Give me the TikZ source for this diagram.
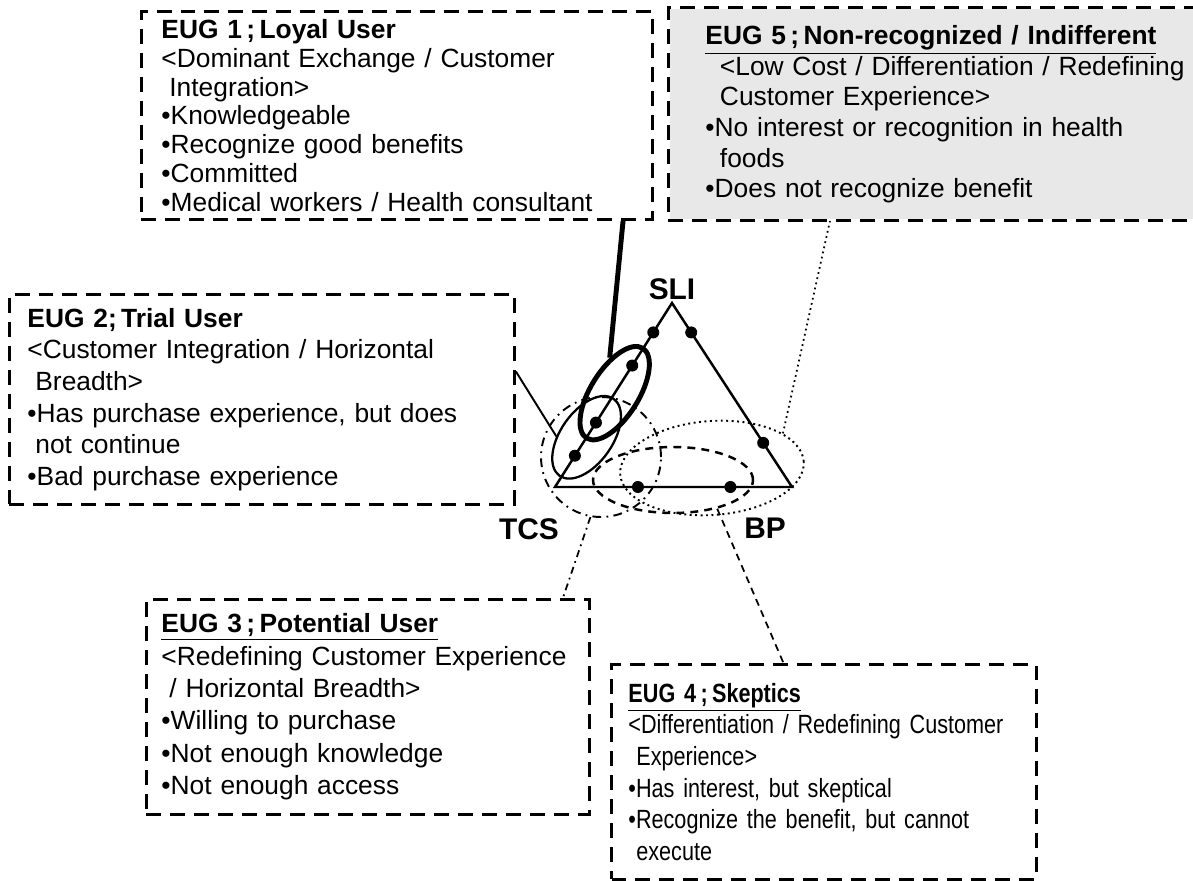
\documentclass[tikz,border=0pt]{standalone}
\usepackage{fontspec}
\setmainfont{Liberation Sans}
\newfontfamily\narrowfont[FakeStretch=0.82]{Liberation Sans}
\usepackage{tikz}
\usetikzlibrary{shapes.geometric,positioning,calc}
\tikzstyle{eugline} = [line width=1.7pt, dash pattern=on 0.3cm off 0.18cm]
\tikzstyle{eugbox} = [eugline, draw, anchor=north west, align=left, inner ysep=0pt, font=\fontsize{15}{17.4}\selectfont]
\tikzstyle{corner} = [inner sep=0pt, font=\fontsize{17}{20}\selectfont\bfseries]
\tikzstyle{vtx} = [circle, fill=black, inner sep=0pt, minimum size=0.24cm]
\tikzstyle{grp} = [ellipse, draw, inner sep=0pt]
\newcommand{\cont}{\hspace*{0.3em}}
\newcommand{\wcont}{\hspace*{0.55em}}

\begin{document}
\begin{tikzpicture}[x=0.02cm, y=-0.02cm]
    \useasboundingbox (0,0) rectangle (1193,881);

    % user group boxes
    \node[eugbox, font=\fontsize{15}{16.4}\selectfont, inner xsep=0.4cm, text width=9.42cm, minimum height=4.16cm] (eug1) at (140,10)
        {\textbf{EUG 1\,;\,Loyal User}\\<Dominant Exchange / Customer\\\cont Integration>\\•Knowledgeable\\•Recognize good benefits\\•Committed\\•Medical workers / Health consultant};
    \node[eugbox, font=\fontsize{15}{18}\selectfont, inner xsep=0.36cm, text width=9.38cm, minimum height=4.2cm] (eug2) at (8,293)
        {\textbf{EUG 2;\,Trial User}\\<Customer Integration / Horizontal\\\cont Breadth>\\•Has purchase experience, but does\\\cont not continue\\•Bad purchase experience};
    \node[eugbox, font=\fontsize{15}{18.4}\selectfont, inner xsep=0.3cm, text width=8.26cm, minimum height=4.3cm] (eug3) at (145,598)
        {\underline{\textbf{EUG 3\,;\,Potential User}}\\<Redefining Customer Experience\\\cont / Horizontal Breadth>\\•Willing to purchase\\•Not enough knowledge\\•Not enough access};
    \node[eugbox, font=\narrowfont\fontsize{15}{18}\selectfont, inner xsep=0.34cm, text width=7.82cm, minimum height=4.3cm] (eug4) at (610,663)
        {\underline{\textbf{EUG 4\,;\,Skeptics}}\\<Differentiation / Redefining Customer\\\cont Experience>\\•Has interest, but skeptical\\•Recognize the benefit, but cannot\\\cont execute};
    \node[eugbox, draw=none, fill=black!9, inner xsep=0.72cm, text width=9.6cm, minimum height=4.2cm] (eug5) at (668,8)
        {\underline{\textbf{EUG 5\,;\,Non-recognized / Indifferent}}\\\wcont<Low Cost / Differentiation / Redefining\\\wcont Customer Experience>\\•No interest or recognition in health\\\wcont foods\\•Does not recognize benefit};
    \draw[eugline] (eug5.north east) -- (eug5.north west) -- (eug5.south west) -- (eug5.south east);

    % triangle
    \coordinate (sliC) at (672,303);
    \coordinate (tcsC) at (555,487);
    \coordinate (bpC) at (792,487);
    \draw[line width=1.4pt] (sliC) -- (tcsC) -- (bpC) -- cycle;
    \node[corner, above=0.05cm of sliC] (sli) {SLI};
    \node[corner, below=0.62cm of tcsC, xshift=-0.52cm] (tcs) {TCS};
    \node[corner, below=0.62cm of bpC, xshift=-0.54cm] (bp) {BP};

    % groups on the triangle
    \node[grp, line width=2.8pt, minimum width=2.12cm, minimum height=0.96cm, rotate=58] (g1) at ($(tcsC)!0.51!(sliC)$) {};
    \node[grp, line width=1.3pt, minimum width=1.88cm, minimum height=1.04cm, rotate=55] (g2) at ($(tcsC)!0.27!(sliC)$) {};
    \node[grp, line width=1.1pt, dash pattern=on 5pt off 3pt on 1pt off 3pt, minimum size=2.4cm] (g3) at (601,457) {};
    \node[grp, line width=1.4pt, dash pattern=on 4.5pt off 3.5pt, minimum width=3.2cm, minimum height=1.32cm] (g4) at (673,480) {};
    \node[grp, line width=1.1pt, dotted, minimum width=3.68cm, minimum height=1.88cm, rotate=4] (g5) at (712,468) {};

    \foreach \t [count=\i] in {0.17,0.35,0.66,0.84}
        \node[vtx] (l\i) at ($(tcsC)!\t!(sliC)$) {};
    \foreach \t [count=\i] in {0.16,0.76}
        \node[vtx] (r\i) at ($(sliC)!\t!(bpC)$) {};
    \foreach \t [count=\i] in {0.35,0.74}
        \node[vtx] (b\i) at ($(tcsC)!\t!(bpC)$) {};

    % links from boxes to groups
    \draw[line width=2.8pt] ($(eug1.south west)!0.94!(eug1.south east)$) -- (g1.40);
    \draw[line width=1.1pt] ([yshift=0.56cm]eug2.east) -- (g2.123);
    \draw[line width=1pt, dash pattern=on 4pt off 2.5pt on 1pt off 2.5pt] (g3.260) -- ([xshift=-0.56cm]eug3.north east);
    \draw[line width=1pt, dash pattern=on 4pt off 3pt] (g4.-33) -- ([xshift=-0.81cm]eug4.north);
    \draw[line width=1pt, dotted] (g5.22) -- ([xshift=3.24cm]eug5.south west);
\end{tikzpicture}
\end{document}
